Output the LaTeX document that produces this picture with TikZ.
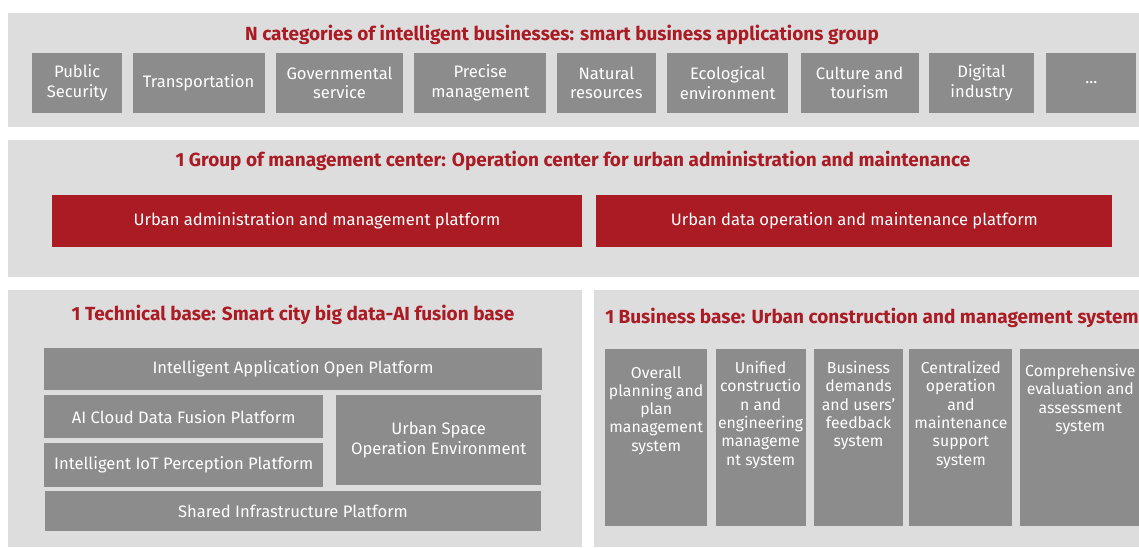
\documentclass[tikz,border=0pt]{standalone}
\usepackage{fontspec}
\setmainfont{Fira Sans}
\usetikzlibrary{positioning}
\definecolor{panelgray}{RGB}{221,221,221}
\definecolor{tilegray}{RGB}{140,140,140}
\definecolor{darkred}{RGB}{170,27,36}
\tikzstyle{panel}   = [fill=panelgray,
                       inner sep=0pt,
                       anchor=north west]
\tikzstyle{tile}    = [fill=tilegray,
                       text=white,
                       inner sep=0pt,
                       align=center,
                       font=\fontsize{16.6}{19.5}\selectfont]
\tikzstyle{redbar}  = [tile,
                       fill=darkred]
\tikzstyle{column}  = [fill=tilegray,
                       inner sep=0pt,
                       anchor=north west,
                       minimum height=177pt]
\tikzstyle{coltext} = [text=white,
                       inner sep=0pt,
                       align=center,
                       anchor=north,
                       font=\fontsize{15.8}{18.3}\selectfont]
\tikzstyle{heading} = [text=darkred,
                       inner sep=0pt,
                       font=\bfseries\fontsize{19}{22}\selectfont]

\begin{document}
\begin{tikzpicture}[x=1pt, y=-1pt]

  \useasboundingbox (0,0) rectangle (1139,547);

  % Panels
  \node[panel, minimum width=1131pt, minimum height=114pt] (apps)   at (8,13)   {};
  \node[panel, minimum width=1131pt, minimum height=137pt] (center) at (8,140)  {};
  \node[panel, minimum width=574pt,  minimum height=257pt] (tech)   at (8,290)  {};
  \node[panel, minimum width=545pt,  minimum height=257pt] (biz)    at (594,290) {};

  % Headings
  \node[heading] (appstitle)   at (562,35)  {N categories of intelligent businesses: smart business applications group};
  \node[heading] (centertitle) at (573,161) {1 Group of management center: Operation center for urban administration and maintenance};
  \node[heading] (techtitle)   at (293,315) {1 Technical base: Smart city big data-AI fusion base};
  \node[heading] (biztitle)    at (872,318) {1 Business base: Urban construction and management system};

  % Business applications
  \node[tile, minimum width=90pt, minimum height=60pt, anchor=west] (security) at (32,83) {Public\\Security};
  \node[tile, minimum width=132pt, minimum height=60pt, right=10pt of security] (transport) {Transportation};
  \node[tile, minimum width=127pt, minimum height=60pt, right=11pt of transport] (govern) {Governmental\\service};
  \node[tile, minimum width=132pt, minimum height=60pt, right=11pt of govern] (precise) {Precise\\management};
  \node[tile, minimum width=99pt, minimum height=60pt, right=10pt of precise] (natural) {Natural\\resources};
  \node[tile, minimum width=121pt, minimum height=60pt, right=11pt of natural] (ecology) {Ecological\\environment};
  \node[tile, minimum width=118pt, minimum height=60pt, right=12pt of ecology] (culture) {Culture and\\tourism};
  \node[tile, minimum width=105pt, minimum height=60pt, right=10pt of culture] (digital) {Digital\\industry};
  \node[tile, minimum width=90pt, minimum height=60pt, right=12pt of digital] (more) {...};

  % Management platforms
  \node[redbar, minimum width=530pt, minimum height=52pt] (adminplat) at (317,221) {Urban administration and management platform};
  \node[redbar, minimum width=516pt, minimum height=52pt, right=14pt of adminplat] (dataplat) {Urban data operation and maintenance platform};

  % Technical base
  \node[tile, minimum width=498pt, minimum height=42pt] (openplat) at (293,369) {Intelligent Application Open Platform};
  \node[tile, minimum width=279pt, minimum height=43pt, anchor=north west] (fusion) at (44,395) {AI Cloud Data Fusion Platform};
  \node[tile, minimum width=279pt, minimum height=44pt, below=4pt of fusion] (iot) {Intelligent IoT Perception Platform};
  \node[tile, minimum width=205pt, minimum height=90pt, anchor=north west] (space) at (336,395) {Urban Space\\Operation Environment};
  \node[tile, minimum width=496pt, minimum height=40pt] (infra) at (293,511) {Shared Infrastructure Platform};

  % Business base
  \node[column, minimum width=102pt] (planning) at (605,349) {};
  \node[column, minimum width=90pt,  right=8pt of planning] (construct) {};
  \node[column, minimum width=89pt,  right=8pt of construct] (feedback) {};
  \node[column, minimum width=103pt, right=6pt of feedback] (operation) {};
  \node[column, minimum width=121pt, right=7pt of operation] (evaluate) {};

  \node[coltext, below=17pt of planning.north] (planningtext) {Overall\\planning and\\plan\\management\\system};
  \node[coltext, below=12pt of construct.north] (constructtext) {Unified\\constructio\\n and\\engineering\\manageme\\nt system};
  \node[coltext, below=12pt of feedback.north] (feedbacktext) {Business\\demands\\and users'\\feedback\\system};
  \node[coltext, below=12pt of operation.north] (operationtext) {Centralized\\operation\\and\\maintenance\\support\\system};
  \node[coltext, below=15pt of evaluate.north] (evaluatetext) {Comprehensive\\evaluation and\\assessment\\system};

\end{tikzpicture}
\end{document}
